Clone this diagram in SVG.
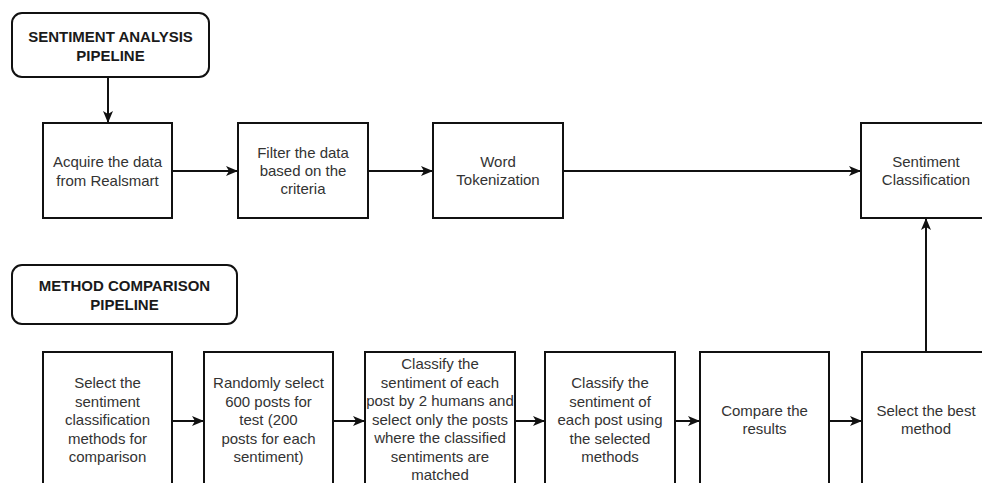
<svg xmlns="http://www.w3.org/2000/svg" width="982" height="483" viewBox="0 0 982 483">
<style>
.box{fill:#fff;stroke:#111;stroke-width:2}
.hdr{fill:#fff;stroke:#111;stroke-width:2}
.t{font-family:"Liberation Sans",Arial,sans-serif;font-size:15px;fill:#333;text-anchor:middle}
.h{font-family:"Liberation Sans",Arial,sans-serif;font-size:15px;font-weight:bold;fill:#1a1a1a;text-anchor:middle}
.c{fill:none;stroke:#111;stroke-width:2}
</style>
<defs>
<marker id="arr" markerWidth="12" markerHeight="10" refX="11" refY="5" orient="auto" markerUnits="userSpaceOnUse">
<path d="M0,0 L12,5 L0,10 L3,5 Z" fill="#111"/>
</marker>
</defs>
<rect width="982" height="483" fill="#fff"/>
<g id="connectors">
<line class="c" x1="108" y1="77" x2="108" y2="122" marker-end="url(#arr)"/>
<line class="c" x1="172" y1="171" x2="237" y2="171" marker-end="url(#arr)"/>
<line class="c" x1="368" y1="171" x2="432" y2="171" marker-end="url(#arr)"/>
<line class="c" x1="563" y1="171" x2="860" y2="171" marker-end="url(#arr)"/>
<line class="c" x1="172" y1="421" x2="203" y2="421" marker-end="url(#arr)"/>
<line class="c" x1="333" y1="421" x2="364" y2="421" marker-end="url(#arr)"/>
<line class="c" x1="515" y1="421" x2="544" y2="421" marker-end="url(#arr)"/>
<line class="c" x1="675" y1="421" x2="699" y2="421" marker-end="url(#arr)"/>
<line class="c" x1="829" y1="421" x2="861" y2="421" marker-end="url(#arr)"/>
<line class="c" x1="926" y1="352" x2="926" y2="219" marker-end="url(#arr)"/>
</g>
<g id="hdr1">
<rect class="hdr" x="12" y="13" width="197" height="64" rx="10"/>
<text class="h" x="110.5" y="41.5">SENTIMENT ANALYSIS</text>
<text class="h" x="110.5" y="60.5">PIPELINE</text>
</g>
<g id="hdr2">
<rect class="hdr" x="12" y="265" width="225" height="59" rx="10"/>
<text class="h" x="124.5" y="291">METHOD COMPARISON</text>
<text class="h" x="124.5" y="310">PIPELINE</text>
</g>
<g id="acquire">
<rect class="box" x="43" y="123" width="129" height="95"/>
<text class="t" x="107.5" y="167">Acquire the data</text>
<text class="t" x="107.5" y="185.5">from Realsmart</text>
</g>
<g id="filter">
<rect class="box" x="238" y="123" width="130" height="95"/>
<text class="t" x="303" y="158">Filter the data</text>
<text class="t" x="303" y="176">based on the</text>
<text class="t" x="303" y="194">criteria</text>
</g>
<g id="tokenize">
<rect class="box" x="433" y="123" width="130" height="95"/>
<text class="t" x="498" y="167">Word</text>
<text class="t" x="498" y="185">Tokenization</text>
</g>
<g id="classification">
<rect class="box" x="861" y="123" width="130" height="95"/>
<text class="t" x="926" y="167">Sentiment</text>
<text class="t" x="926" y="185">Classification</text>
</g>
<g id="selectMethods">
<rect class="box" x="43" y="352" width="129" height="140"/>
<text class="t" x="107.5" y="388">Select the</text>
<text class="t" x="107.5" y="406.5">sentiment</text>
<text class="t" x="107.5" y="425">classification</text>
<text class="t" x="107.5" y="443.5">methods for</text>
<text class="t" x="107.5" y="462">comparison</text>
</g>
<g id="randomSelect">
<rect class="box" x="204" y="352" width="129" height="140"/>
<text class="t" x="268.5" y="388">Randomly select</text>
<text class="t" x="268.5" y="406.5">600 posts for</text>
<text class="t" x="268.5" y="425">test (200</text>
<text class="t" x="268.5" y="443.5">posts for each</text>
<text class="t" x="268.5" y="462">sentiment)</text>
</g>
<g id="humanClassify">
<rect class="box" x="365" y="352" width="150" height="140"/>
<text class="t" x="440" y="369">Classify the</text>
<text class="t" x="440" y="387.5">sentiment of each</text>
<text class="t" x="440" y="406">post by 2 humans and</text>
<text class="t" x="440" y="424.5">select only the posts</text>
<text class="t" x="440" y="443">where the classified</text>
<text class="t" x="440" y="461.5">sentiments are</text>
<text class="t" x="440" y="480">matched</text>
</g>
<g id="methodClassify">
<rect class="box" x="545" y="352" width="130" height="140"/>
<text class="t" x="610" y="388">Classify the</text>
<text class="t" x="610" y="406.5">sentiment of</text>
<text class="t" x="610" y="425">each post using</text>
<text class="t" x="610" y="443.5">the selected</text>
<text class="t" x="610" y="462">methods</text>
</g>
<g id="compare">
<rect class="box" x="700" y="352" width="129" height="140"/>
<text class="t" x="764.5" y="416">Compare the</text>
<text class="t" x="764.5" y="434">results</text>
</g>
<g id="selectBest">
<rect class="box" x="862" y="352" width="130" height="140"/>
<text class="t" x="926" y="416">Select the best</text>
<text class="t" x="926" y="434">method</text>
</g>
</svg>
